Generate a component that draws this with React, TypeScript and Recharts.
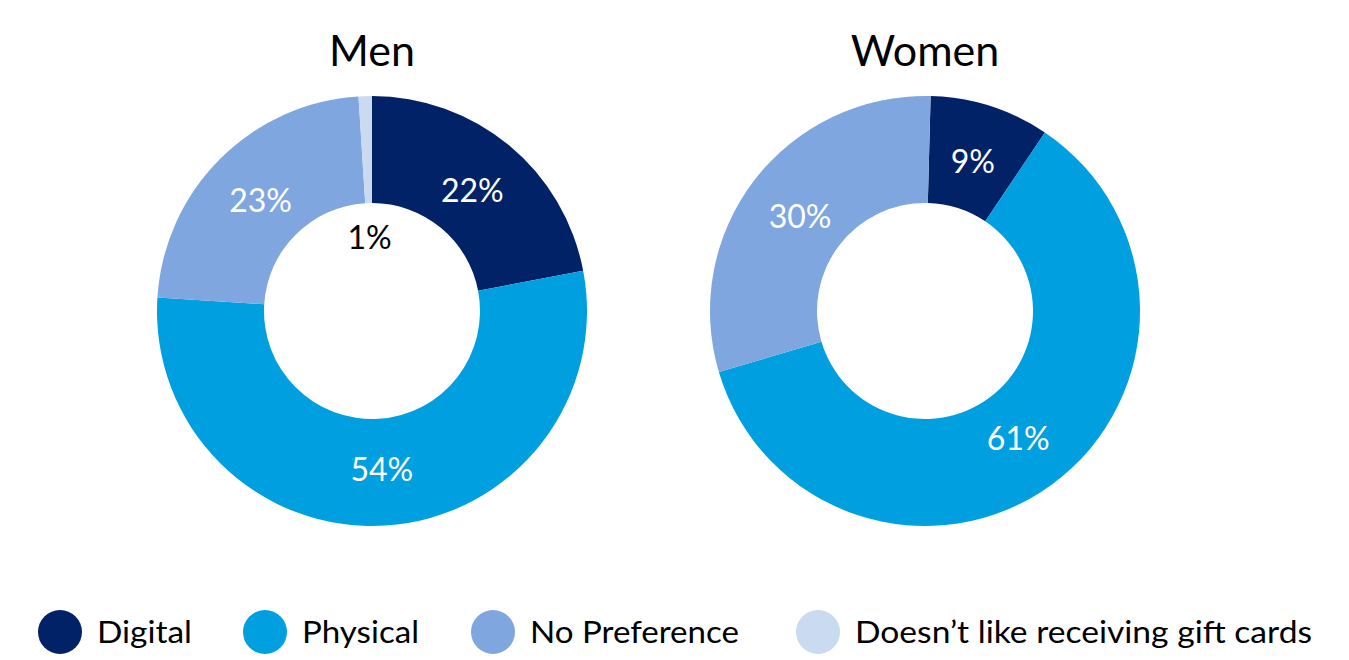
import React from 'react';
import { PieChart, Pie, Cell, Legend } from 'recharts';

const categories = ['Digital', 'Physical', 'No Preference', 'Doesn\u2019t like receiving gift cards'];
const menValues = [22, 54, 23, 1];
const womenValues = [9, 61, 30, 0];
const groupTitles = ['Men', 'Women'];
const colors = ['#022268', '#009FDF', '#7FA6DE', '#C9DAF1'];

const menData = categories.map((name, i) => ({ name, value: menValues[i] }));
const womenData = categories.map((name, i) => ({ name, value: womenValues[i] }));

const FONT = 'Lato, "Open Sans", sans-serif';
const RAD = Math.PI / 180;

const renderLabel = (props: any) => {
  const { cx, cy, midAngle, innerRadius, outerRadius, value } = props;
  if (!value) return null;
  const small = value < 5;
  const r = small ? innerRadius - 33 : (innerRadius + outerRadius) / 2 - 4;
  const x = cx + r * Math.cos(-midAngle * RAD);
  const y = cy + r * Math.sin(-midAngle * RAD);
  return (
    <text
      x={x}
      y={y}
      fill={small ? '#000' : '#fff'}
      textAnchor="middle"
      dominantBaseline="central"
      fontFamily={FONT}
      fontSize={32}
    >
      {`${value}%`}
    </text>
  );
};

const legendX = [60, 265, 493, 818];
const legendTextW = [95, 117, 209, 457];

const renderLegend = () => (
  <svg width={1349} height={60} style={{ display: 'block' }}>
    {categories.map((c, i) => (
      <g key={c}>
        <circle cx={legendX[i]} cy={32} r={22} fill={colors[i]} />
        <text
          x={legendX[i] + 37}
          y={43}
          fontFamily={FONT}
          fontSize={31}
          fill="#000"
          textLength={legendTextW[i]}
          lengthAdjust="spacingAndGlyphs"
        >
          {c}
        </text>
      </g>
    ))}
  </svg>
);

const centersX = [372, 925];
const startAngles = [90, 88.5];

export default function App() {
  return (
    <div style={{ position: 'absolute', left: 0, top: 0, width: 1349, height: 660, background: '#fff' }}>
      {groupTitles.map((t, i) => (
        <div
          key={t}
          style={{
            position: 'absolute',
            left: centersX[i] - 150,
            width: 300,
            top: 22,
            textAlign: 'center',
            fontFamily: FONT,
            fontSize: 43,
            lineHeight: '56px',
            color: '#000',
          }}
        >
          {t}
        </div>
      ))}
      <PieChart width={1349} height={660} margin={{ top: 0, right: 0, bottom: 0, left: 0 }}>
        <Pie
          data={menData}
          dataKey="value"
          nameKey="name"
          cx={centersX[0]}
          cy={311}
          innerRadius={108}
          outerRadius={215}
          startAngle={startAngles[0]}
          endAngle={startAngles[0] - 360}
          stroke="none"
          labelLine={false}
          label={renderLabel}
          isAnimationActive={false}
        >
          {menData.map((d, i) => (
            <Cell key={d.name} fill={colors[i]} />
          ))}
        </Pie>
        <Pie
          data={womenData}
          dataKey="value"
          nameKey="name"
          cx={centersX[1]}
          cy={311}
          innerRadius={108}
          outerRadius={215}
          startAngle={startAngles[1]}
          endAngle={startAngles[1] - 360}
          stroke="none"
          labelLine={false}
          label={renderLabel}
          isAnimationActive={false}
        >
          {womenData.map((d, i) => (
            <Cell key={d.name} fill={colors[i]} />
          ))}
        </Pie>
        <Legend
          content={renderLegend}
          wrapperStyle={{ position: 'absolute', left: 0, top: 600, width: 1349, height: 60 }}
        />
      </PieChart>
    </div>
  );
}
